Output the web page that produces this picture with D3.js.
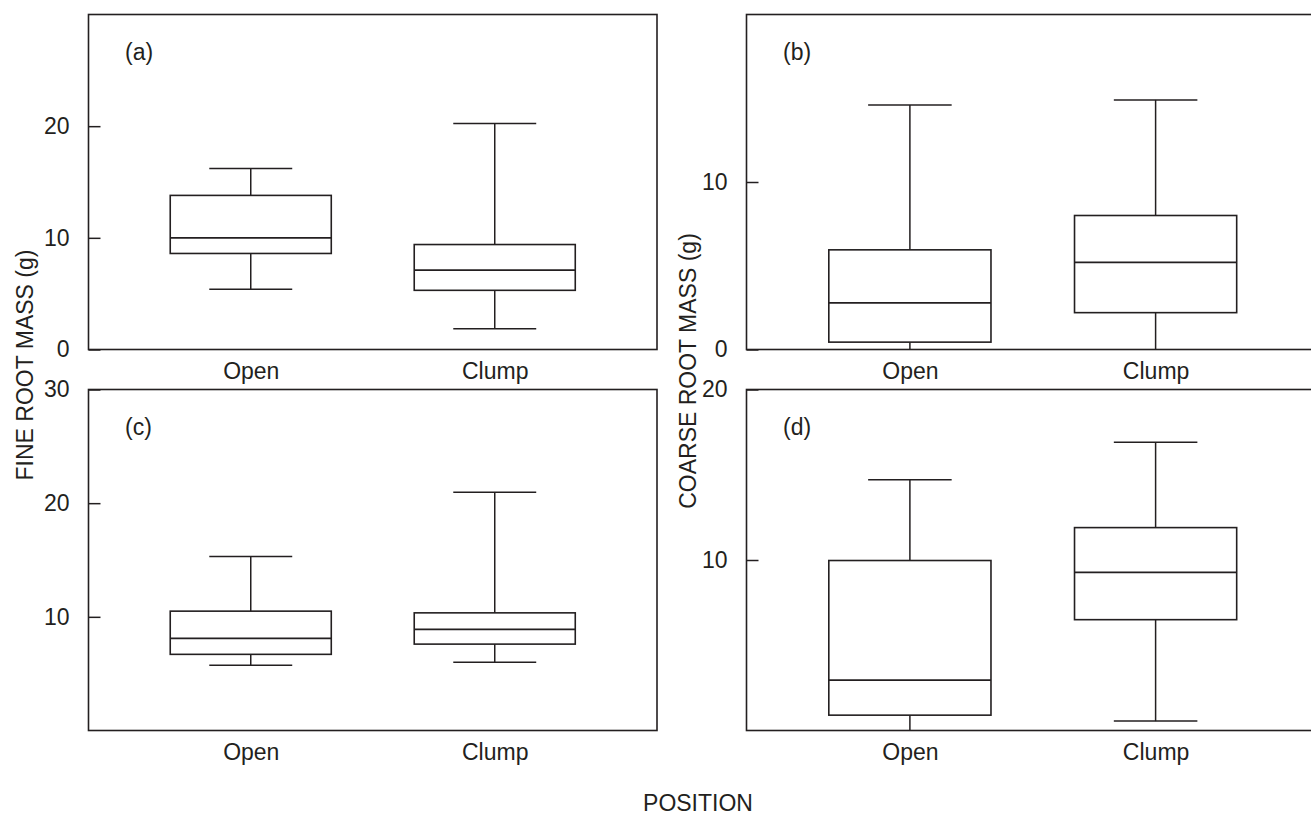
<!DOCTYPE html>
<html>
<head>
<meta charset="utf-8">
<script src="https://cdn.jsdelivr.net/npm/d3@7"></script>
<style>
  html, body { margin: 0; padding: 0; background: #fff; }
  svg { display: block; }
  text { font-family: "Liberation Sans", Arial, Helvetica, sans-serif; fill: #231f20; }
</style>
</head>
<body>
<svg id="chart" width="1311" height="820"></svg>
<script>
// ---------- DATA ----------
const categories = ["Open", "Clump"];

// five-number summaries: [min, q1, median, q3, max]
const panelAOpen  = [5.4, 8.6, 10.0, 13.8, 16.2];
const panelAClump = [1.85, 5.3, 7.1, 9.4, 20.25];

const panelBOpen  = [0, 0.44, 2.78, 5.95, 14.6];
const panelBClump = [0, 2.2, 5.2, 8.0, 14.9];

const panelCOpen  = [5.75, 6.7, 8.1, 10.5, 15.3];
const panelCClump = [6.0, 7.6, 8.9, 10.35, 20.95];

const panelDOpen  = [0, 0.9, 2.95, 9.97, 14.7];
const panelDClump = [0.55, 6.5, 9.27, 11.9, 16.9];

const panelATicks = [0, 10, 20];
const panelBTicks = [0, 10];
const panelCTicks = [10, 20, 30];
const panelDTicks = [10, 20];

const panelLetters = ["(a)", "(b)", "(c)", "(d)"];
const fineTitle = "FINE ROOT MASS (g)";
const coarseTitle = "COARSE ROOT MASS (g)";
const xTitle = "POSITION";

// ---------- LAYOUT ----------
const svg = d3.select("#chart");
const ink = "#231f20";
const fontSize = 23;

const panels = [
  { letter: panelLetters[0], x0: 88.5, x1: 657, y0: 14.5, y1: 349.5, max: 30, ticks: panelATicks, data: [panelAOpen, panelAClump] },
  { letter: panelLetters[1], x0: 746.5, x1: 1319, y0: 14.5, y1: 349.5, max: 20, ticks: panelBTicks, data: [panelBOpen, panelBClump] },
  { letter: panelLetters[2], x0: 88.5, x1: 657, y0: 389.5, y1: 730.5, max: 30, ticks: panelCTicks, data: [panelCOpen, panelCClump] },
  { letter: panelLetters[3], x0: 746.5, x1: 1319, y0: 389.5, y1: 730.5, max: 20, ticks: panelDTicks, data: [panelDOpen, panelDClump] }
];

panels.forEach(p => {
  const g = svg.append("g");
  const x = d3.scalePoint().domain(categories).range([p.x0, p.x1]).padding(0.665);
  const y = d3.scaleLinear().domain([0, p.max]).range([p.y1, p.y0]);
  const step = x.step();
  const boxW = step * 0.66;
  const capW = step * 0.34;

  // y axis (ticks pointing inward)
  const yAxis = d3.axisLeft(y).tickValues(p.ticks).tickSize(-12).tickPadding(19).tickFormat(d3.format("d"));
  const ya = g.append("g").attr("transform", `translate(${p.x0},0)`).call(yAxis);
  ya.select(".domain").remove();
  ya.selectAll("line").attr("stroke", ink).attr("stroke-width", 1.5);
  ya.selectAll("text").attr("font-size", fontSize).attr("fill", ink)
    .attr("font-family", '"Liberation Sans", Arial, sans-serif');

  // x axis labels
  const xAxis = d3.axisBottom(x).tickSize(0).tickPadding(13);
  const xa = g.append("g").attr("transform", `translate(0,${p.y1})`).call(xAxis);
  xa.select(".domain").remove();
  xa.selectAll("text").attr("font-size", fontSize).attr("fill", ink)
    .attr("font-family", '"Liberation Sans", Arial, sans-serif');

  // boxes
  const boxes = g.selectAll(".box").data(categories.map((c, i) => ({ c, v: p.data[i] })))
    .enter().append("g").attr("class", "box");

  // whiskers
  boxes.append("line")
    .attr("x1", d => x(d.c)).attr("x2", d => x(d.c))
    .attr("y1", d => y(d.v[3])).attr("y2", d => y(d.v[4]))
    .attr("stroke", ink).attr("stroke-width", 1.5);
  boxes.append("line")
    .attr("x1", d => x(d.c)).attr("x2", d => x(d.c))
    .attr("y1", d => y(d.v[1])).attr("y2", d => y(d.v[0]))
    .attr("stroke", ink).attr("stroke-width", 1.5);
  // caps
  boxes.append("line")
    .attr("x1", d => x(d.c) - capW / 2).attr("x2", d => x(d.c) + capW / 2)
    .attr("y1", d => y(d.v[4])).attr("y2", d => y(d.v[4]))
    .attr("stroke", ink).attr("stroke-width", 1.5);
  boxes.filter(d => d.v[0] > 0).append("line")
    .attr("x1", d => x(d.c) - capW / 2).attr("x2", d => x(d.c) + capW / 2)
    .attr("y1", d => y(d.v[0])).attr("y2", d => y(d.v[0]))
    .attr("stroke", ink).attr("stroke-width", 1.5);
  // box
  boxes.append("rect")
    .attr("x", d => x(d.c) - boxW / 2).attr("width", boxW)
    .attr("y", d => y(d.v[3])).attr("height", d => y(d.v[1]) - y(d.v[3]))
    .attr("fill", "none").attr("stroke", ink).attr("stroke-width", 1.6);
  // median
  boxes.append("line")
    .attr("x1", d => x(d.c) - boxW / 2).attr("x2", d => x(d.c) + boxW / 2)
    .attr("y1", d => y(d.v[2])).attr("y2", d => y(d.v[2]))
    .attr("stroke", ink).attr("stroke-width", 1.8);

  // frame
  g.append("rect")
    .attr("x", p.x0).attr("y", p.y0)
    .attr("width", p.x1 - p.x0).attr("height", p.y1 - p.y0)
    .attr("fill", "none").attr("stroke", ink).attr("stroke-width", 1.6);

  // panel letter
  g.append("text")
    .attr("x", p.x0 + 36.5).attr("y", p.y0 + 45)
    .attr("font-size", fontSize)
    .text(p.letter);
});

// axis titles
svg.append("text")
  .attr("transform", "translate(33,365) rotate(-90)")
  .attr("text-anchor", "middle")
  .attr("font-size", fontSize)
  .text(fineTitle);

svg.append("text")
  .attr("transform", "translate(696,371) rotate(-90)")
  .attr("text-anchor", "middle")
  .attr("font-size", fontSize)
  .text(coarseTitle);

svg.append("text")
  .attr("x", 698).attr("y", 811)
  .attr("text-anchor", "middle")
  .attr("font-size", fontSize)
  .text(xTitle);
</script>
</body>
</html>
